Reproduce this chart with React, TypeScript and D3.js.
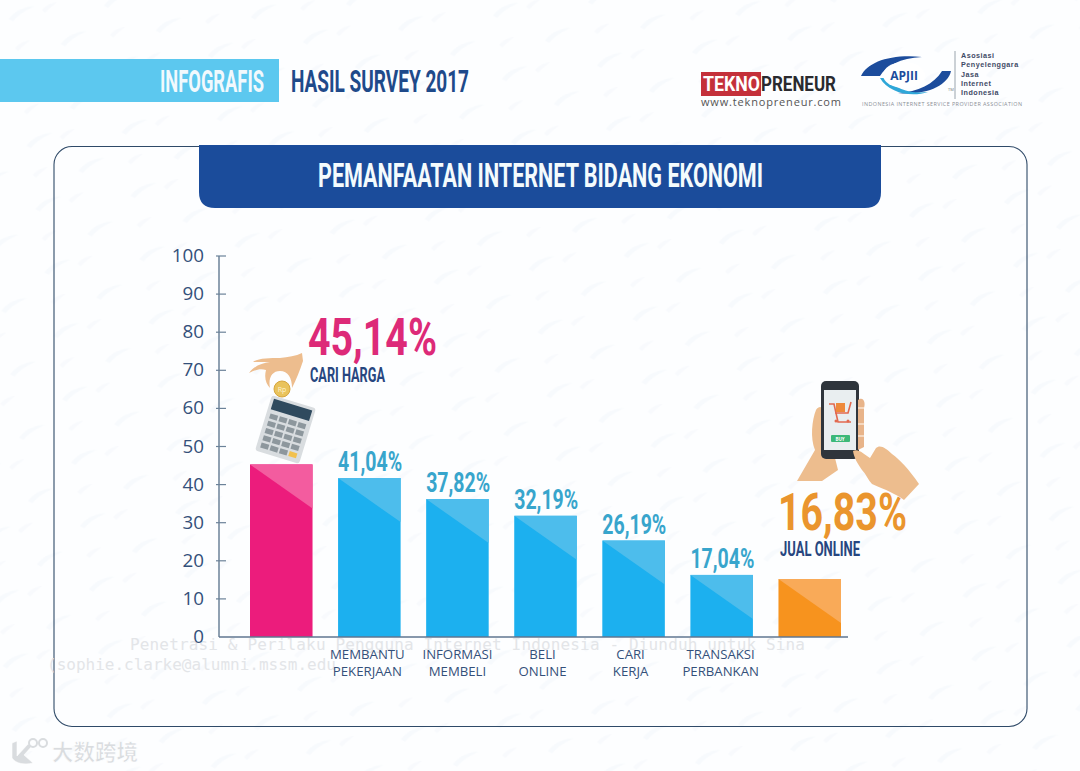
import * as d3 from 'd3';

// Chart data
const categories = ['CARI HARGA', 'MEMBANTU PEKERJAAN', 'INFORMASI MEMBELI', 'BELI ONLINE', 'CARI KERJA', 'TRANSAKSI PERBANKAN', 'JUAL ONLINE'];
const barValues = [45.3, 41.7, 36.2, 31.8, 25.3, 16.3, 15.2];
const valueLabels = ['45,14%', '41,04%', '37,82%', '32,19%', '26,19%', '17,04%', '16,83%'];
const axisLabels = [[], ['MEMBANTU', 'PEKERJAAN'], ['INFORMASI', 'MEMBELI'], ['BELI', 'ONLINE'], ['CARI', 'KERJA'], ['TRANSAKSI', 'PERBANKAN'], []];
const axisLabelShift = [0, -2, 0, -3, -3, -1, 0];
const yTicks = [0, 10, 20, 30, 40, 50, 60, 70, 80, 90, 100];
const apjiiLines = ['Asosiasi', 'Penyelenggara', 'Jasa', 'Internet', 'Indonesia'];

const W = 1080;
const H = 771;
const NARROW = '"Liberation Sans Narrow", "Roboto", sans-serif';
const BODY = '"Open Sans", sans-serif';
const NAVY = '#27467f';
const TICK = '#34507a';
const LABEL_BLUE = '#38a5cc';

const x = d3.scaleBand<string>().domain(categories).range([250, 841]).paddingInner(0.29).paddingOuter(0);
const y = d3.scaleLinear().domain([0, 100]).range([637, 256]);

const barColor = (i: number) => (i === 0 ? '#ec1c7c' : i === 6 ? '#f7931e' : '#1cb0ef');
const shadeColor = (i: number) => (i === 0 ? '#f35c9f' : i === 6 ? '#f9aa58' : '#4dbdec');

// Condensed headline text, squeezed to the measured width
function Narrow({ x: tx, y: ty, w, size, fill, children }: any) {
  return (
    <text
      x={tx}
      y={ty}
      fontFamily={NARROW}
      fontWeight={700}
      fontSize={size}
      fill={fill}
      textLength={w}
      lengthAdjust="spacingAndGlyphs"
    >
      {children}
    </text>
  );
}

function Calculator() {
  const keys = d3.range(5).flatMap((r) => d3.range(4).map((c) => [c, r]));
  return (
    <g transform="translate(272,395) rotate(17)">
      <rect x={0} y={0} width={46} height={58} rx={3} fill="#d9dde0" />
      <rect x={3} y={3} width={40} height={11} fill="#2f4a5e" />
      {keys.map(([c, r]) => (
        <rect
          key={`${c}-${r}`}
          x={4 + c * 9.8}
          y={18 + r * 7.6}
          width={8}
          height={5.2}
          fill={c === 3 && r === 4 ? '#f2c14e' : '#8d979d'}
        />
      ))}
    </g>
  );
}

function CoinHand() {
  return (
    <g>
      <path
        d="M249 373 C254 366 262 363 270 362 L253 362 C258 358 270 358 280 358 C288 357 296 356 302 353 L303 361 C300 370 296 380 292 388 C292 378 288 371 280 371 C272 371 268 378 270 388 C266 384 264 378 266 370 C260 368 255 370 249 373 Z"
        fill="#edbd8e"
      />
      <circle cx={282} cy={389} r={8} fill="#e9c35c" stroke="#d6a63e" />
      <text x={282} y={392} fontSize={7} textAnchor="middle" fontFamily={BODY} fill="#fff4cf">Rp</text>
    </g>
  );
}

function PhoneHands() {
  return (
    <g>
      <path
        d="M797 481 L815 450 C810 438 812 420 816 410 C820 404 824 408 824 414 L838 470 L822 481 Z"
        fill="#edbd8e"
      />
      <rect x={821} y={381} width={38} height={78} rx={5} fill="#2f353c" />
      <rect x={824} y={390} width={32} height={60} fill="#e9eef0" />
      <path d="M829 404 L834 404 L838 422 L851 422 M851 402 L848 413 L835 413" fill="none" stroke="#e2694f" strokeWidth={1.6} />
      <rect x={836} y={403} width={9} height={9} fill="#ee8a3c" />
      <circle cx={836} cy={421} r={1.5} fill="#e2694f" />
      <circle cx={848} cy={421} r={1.5} fill="#e2694f" />
      <rect x={831} y={435} width={19} height={7} rx={1} fill="#3cb878" />
      <text x={840} y={441} fontSize={4.5} fontWeight={700} textAnchor="middle" fontFamily={BODY} fill="#fff">BUY</text>
      <path d="M858 400 C863 396 866 402 864 408 L864 447 L858 450 Z" fill="#e8b48a" />
      <path d="M858 408 L864 408 M858 424 L864 424 M858 436 L864 436" stroke="#f5d8bf" strokeWidth={2} />
      <path
        d="M853 451 C858 448 864 454 870 458 L876 448 C880 444 886 448 892 454 C900 460 908 468 919 484 L904 500 C896 494 886 490 872 484 C868 480 866 474 862 470 C858 464 854 458 853 451 Z"
        fill="#edbd8e"
      />
    </g>
  );
}

function Logos() {
  return (
    <g>
      <rect x={701} y={72} width={60} height={24} fill="#c4303a" />
      <text x={703} y={91} fontFamily={NARROW} fontWeight={700} fontSize={21} fill="#fff" textLength={57} lengthAdjust="spacingAndGlyphs">TEKNO</text>
      <text x={761} y={91} fontFamily={NARROW} fontWeight={700} fontSize={21} fill="#2a2a2e" textLength={75} lengthAdjust="spacingAndGlyphs">PRENEUR</text>
      <text x={701} y={106} fontFamily={BODY} fontSize={11} fill="#555" textLength={140}>www.teknopreneur.com</text>

      <path d="M861 76 C868 62 890 54 922 57 C900 58 886 66 880 76 Z" fill="#1c4c9c" />
      <path d="M951 71 C948 86 924 96 898 93 C918 92 934 84 942 71 Z" fill="#1c4c9c" />
      <path d="M880 78 C888 92 910 98 928 92 C912 94 896 90 886 78 Z" fill="#2fa7d8" />
      <ellipse cx={904} cy={75} rx={21} ry={13} fill="#fff" />
      <text x={904} y={80} fontFamily={BODY} fontWeight={700} fontSize={12} textAnchor="middle" fill="#1c4c9c">APJII</text>
      <text x={948} y={91} fontFamily={BODY} fontSize={4} fill="#777">TM</text>
      <line x1={955} x2={955} y1={51} y2={99} stroke="#9aa4ad" />
      {apjiiLines.map((t, i) => (
        <text key={t} x={961} y={58 + i * 9.3} fontFamily="Liberation Sans, sans-serif" fontSize={7.2} letterSpacing={0.5} fontWeight={700} fill="#3f4a66">
          {t}
        </text>
      ))}
      <text x={862} y={106} fontFamily={BODY} fontSize={5.4} fill="#8a8f96" textLength={160}>
        INDONESIA INTERNET SERVICE PROVIDER ASSOCIATION
      </text>
    </g>
  );
}

export default function App() {
  const bw = x.bandwidth();
  return (
    <svg
      width={W}
      height={H}
      viewBox={`0 0 ${W} ${H}`}
      style={{ position: 'absolute', left: 0, top: 0, display: 'block', background: '#fff' }}
    >
      <defs>
        <pattern id="swoosh" width={96} height={64} patternUnits="userSpaceOnUse" patternTransform="rotate(-8)">
          <path d="M6 20 C14 12 24 10 34 11 C26 13 16 17 10 23 Z" fill="#dce8f1" opacity={0.16} />
          <path d="M40 16 C44 12 50 10 56 10 C52 13 46 16 43 19 Z" fill="#dce8f1" opacity={0.14} />
          <path d="M54 52 C62 44 72 42 82 43 C74 45 64 49 58 55 Z" fill="#dce8f1" opacity={0.16} />
          <path d="M8 50 C12 46 18 44 24 44 C20 47 14 50 11 53 Z" fill="#dce8f1" opacity={0.14} />
        </pattern>
      </defs>
      <rect width={W} height={H} fill="#fdfeff" />
      <rect width={W} height={H} fill="url(#swoosh)" />

      {/* Header */}
      <rect x={0} y={59} width={279} height={43} fill="#5cc8ef" />
      <Narrow x={160} y={92} w={104} size={31} fill="#f1f9fd">INFOGRAFIS</Narrow>
      <Narrow x={291} y={92} w={178} size={31} fill="#1f4a8a">HASIL SURVEY 2017</Narrow>
      <Logos />

      {/* Card and title banner */}
      <rect x={54} y={146.5} width={973} height={580} rx={18} fill="none" stroke="#2f4a68" strokeWidth={1.1} />
      <path d="M199 145 H881 V192 Q881 208 865 208 H215 Q199 208 199 192 Z" fill="#1b4c9b" />
      <Narrow x={318} y={187} w={445} size={33} fill="#f4fbfd">PEMANFAATAN INTERNET BIDANG EKONOMI</Narrow>

      {/* Watermark text */}
      <g fontFamily='"DejaVu Sans Mono", monospace' fontSize={16} fill="#e3e5e8">
        <text x={130} y={650} textLength={675}>Penetrasi &amp; Perilaku Pengguna Internet Indonesia - Diunduh untuk Sina</text>
        <text x={47} y={670}>(sophie.clarke@alumni.mssm.edu</text>
      </g>

      {/* Y axis */}
      <line x1={219} x2={219} y1={y(100)} y2={y(0)} stroke="#6b8299" strokeWidth={1.5} />
      {yTicks.map((t) => (
        <g key={t}>
          {t > 0 && <line x1={216} x2={226} y1={y(t)} y2={y(t)} stroke="#6b8299" strokeWidth={1.2} />}
          <text x={204} y={y(t) + 6} textAnchor="end" fontFamily={BODY} fontSize={18.8} fill={TICK}>
            {t}
          </text>
        </g>
      ))}

      {/* Bars */}
      {categories.map((c, i) => {
        const x0 = x(c) as number;
        const top = y(barValues[i]);
        return (
          <g key={c}>
            <rect x={x0} y={top} width={bw} height={y(0) - top} fill={barColor(i)} />
            <path d={`M${x0} ${top} H${x0 + bw} V${top + 44} Z`} fill={shadeColor(i)} />
          </g>
        );
      })}
      <line x1={219} x2={848} y1={y(0)} y2={y(0)} stroke="#5f7690" strokeWidth={1.5} />

      {/* Value labels over the blue bars */}
      {categories.map((c, i) =>
        i === 0 || i === 6 ? null : (
          <Narrow key={c} x={(x(c) as number)} y={y(barValues[i]) - 7} w={64} size={27} fill={LABEL_BLUE}>
            {valueLabels[i]}
          </Narrow>
        ),
      )}

      {/* Category labels */}
      {categories.map((c, i) =>
        axisLabels[i].map((line, k) => (
          <text
            key={line}
            x={(x(c) as number) + bw / 2 + axisLabelShift[i]}
            y={659 + k * 16.5}
            textAnchor="middle"
            fontFamily={BODY}
            fontSize={13.2}
            fill="#34507a"
          >
            {line}
          </text>
        )),
      )}

      {/* Callouts */}
      <Narrow x={308} y={355} w={129} size={52} fill="#dd2a78">{valueLabels[0]}</Narrow>
      <Narrow x={310} y={382} w={75} size={21} fill={NAVY}>{categories[0]}</Narrow>
      <Narrow x={778} y={530} w={129} size={52} fill="#ea952e">{valueLabels[6]}</Narrow>
      <Narrow x={780} y={556} w={80} size={21} fill={NAVY}>{categories[6]}</Narrow>

      <Calculator />
      <CoinHand />
      <PhoneHands />

      {/* Bottom-left watermark */}
      <g fill="#d9dcdf" stroke="#fff" strokeWidth={0.6}>
        <path d="M12 743 L17 741 L17 756 L28 744 L32 746 L24 755 L33 763 C25 765 16 764 12 758 Z" />
        <circle cx={33} cy={743} r={4} fill="none" stroke="#d9dcdf" strokeWidth={2} />
        <circle cx={43} cy={743} r={4} fill="none" stroke="#d9dcdf" strokeWidth={2} />
        <text x={52} y={760} fontFamily='"Noto Sans CJK SC", sans-serif' fontWeight={700} fontSize={21.5}>大数跨境</text>
      </g>
    </svg>
  );
}
